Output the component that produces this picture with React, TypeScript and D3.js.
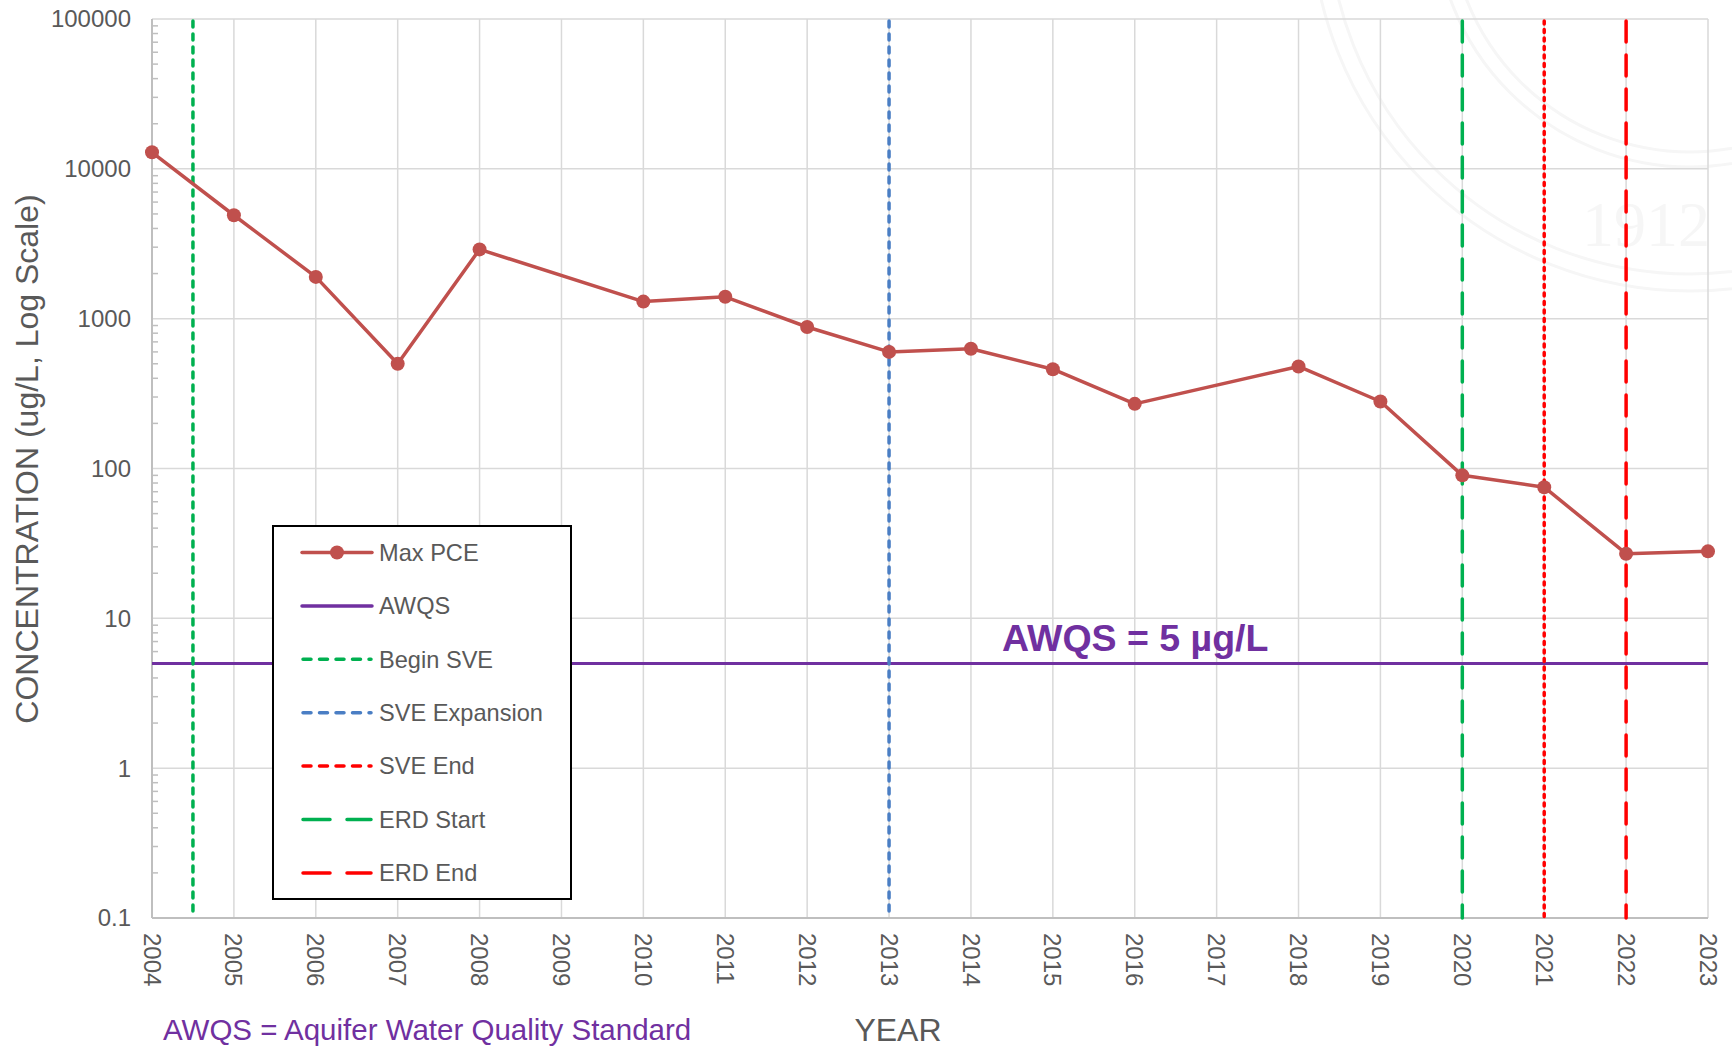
import React from 'react';
import * as d3 from 'd3';

// Max PCE concentrations (ug/L) by sampling year
const years = [2004, 2005, 2006, 2007, 2008, 2010, 2011, 2012, 2013, 2014, 2015, 2016, 2018, 2019, 2020, 2021, 2022, 2023];
const maxPce = [12900, 4900, 1900, 500, 2900, 1300, 1400, 880, 600, 630, 460, 270, 480, 280, 90, 75, 27, 28];

const awqsValue = 5;
const yearTicks = d3.range(2004, 2024);
const decadeTicks = [0.1, 1, 10, 100, 1000, 10000, 100000];

// remediation milestones drawn as vertical lines (dashes account for round caps)
const events = [
  { name: 'Begin SVE', year: 2004.5, color: '#00B050', dash: '6,7', legendDash: '8,8.5' },
  { name: 'SVE Expansion', year: 2013, color: '#4A7EC4', dash: '6,7', legendDash: '8,8.5' },
  { name: 'SVE End', year: 2021, color: '#FF0000', dash: '3,5.5', legendDash: '8,8.5' },
  { name: 'ERD Start', year: 2020, color: '#00B050', dash: '21,13', legendDash: '27,17' },
  { name: 'ERD End', year: 2022, color: '#FF0000', dash: '21,13', legendDash: '27,17' },
];
const legendOrder = ['Max PCE', 'AWQS', 'Begin SVE', 'SVE Expansion', 'SVE End', 'ERD Start', 'ERD End'];

const W = 1732;
const H = 1048;
const FONT = '"Liberation Sans", Arial, sans-serif';
const GRAY = '#595959';
const LINE_RED = '#C0504D';
const PURPLE = '#7030A0';

export default function App() {
  const x = d3.scaleLinear().domain([2004, 2023]).range([152, 1708]);
  const y = d3.scaleLog().domain([0.1, 100000]).range([918, 19]);

  const points = years.map((yr, i) => [yr, maxPce[i]] as [number, number]);
  const line = d3.line<[number, number]>().x(d => x(d[0])).y(d => y(d[1]));

  const minorTicks: number[] = [];
  decadeTicks.slice(0, -1).forEach(d => {
    for (let k = 2; k <= 9; k++) minorTicks.push(d * k);
  });

  const legendX = 273;
  const legendY = 526;
  const legendStep = 53.4;

  const legendSample = (name: string, cy: number) => {
    if (name === 'Max PCE') {
      return (
        <g>
          <line x1={302} x2={372} y1={cy} y2={cy} stroke={LINE_RED} strokeWidth={3.5} strokeLinecap="round" />
          <circle cx={337} cy={cy} r={7} fill={LINE_RED} />
        </g>
      );
    }
    if (name === 'AWQS') {
      return <line x1={302} x2={372} y1={cy} y2={cy} stroke={PURPLE} strokeWidth={3.5} strokeLinecap="round" />;
    }
    const ev = events.find(e => e.name === name)!;
    return (
      <line x1={303} x2={371} y1={cy} y2={cy} stroke={ev.color} strokeWidth={3.5}
        strokeDasharray={ev.legendDash} strokeLinecap="round" />
    );
  };

  return (
    <svg width={W} height={H} style={{ position: 'absolute', left: 0, top: 0, background: '#fff' }}
      fontFamily={FONT}>
      {/* faint seal watermark behind the plot */}
      <g fill="none" stroke="#F6F6F6" strokeWidth={3}>
        <circle cx={1690} cy={-88} r={379} />
        <circle cx={1690} cy={-88} r={362} />
        <circle cx={1690} cy={-88} r={255} />
        <circle cx={1690} cy={-88} r={240} />
      </g>
      <text x={1646} y={246} textAnchor="middle" fontFamily="'Liberation Serif', serif" fontSize={64}
        fill="#F6F6F6">1912</text>

      {/* grid */}
      <g stroke="#D9D9D9" strokeWidth={1.5}>
        {yearTicks.map(t => (
          <line key={`v${t}`} x1={x(t)} x2={x(t)} y1={y(100000)} y2={y(0.1)} />
        ))}
        {decadeTicks.map(t => (
          <line key={`h${t}`} x1={x(2004)} x2={x(2023)} y1={y(t)} y2={y(t)} />
        ))}
      </g>

      {/* axes */}
      <g stroke="#BFBFBF" strokeWidth={2}>
        <line x1={x(2004)} x2={x(2004)} y1={y(100000)} y2={y(0.1)} />
        <line x1={x(2004)} x2={x(2023)} y1={y(0.1)} y2={y(0.1)} />
        {minorTicks.map(t => (
          <line key={`m${t}`} x1={x(2004)} x2={x(2004) + 6} y1={y(t)} y2={y(t)} strokeWidth={1.5} />
        ))}
      </g>

      {/* y tick labels */}
      {decadeTicks.map(t => (
        <text key={`yl${t}`} x={131} y={y(t)} dy="0.35em" textAnchor="end" fontSize={24} fill={GRAY}>
          {String(t)}
        </text>
      ))}

      {/* x tick labels, rotated */}
      {yearTicks.map(t => (
        <text key={`xl${t}`} transform={`translate(${x(t)},933) rotate(90)`} dy="0.35em"
          textAnchor="start" fontSize={24} fill={GRAY}>
          {t}
        </text>
      ))}

      {/* AWQS standard */}
      <line x1={x(2004)} x2={x(2023)} y1={y(awqsValue)} y2={y(awqsValue)} stroke={PURPLE} strokeWidth={3} />
      <text x={1002} y={651} fontSize={37.5} fontWeight="bold" fill={PURPLE}>AWQS = 5 µg/L</text>

      {/* milestone lines */}
      {events.map(ev => (
        <line key={ev.name} x1={x(ev.year)} x2={x(ev.year)} y1={y(100000) + 2} y2={y(0.1)}
          stroke={ev.color} strokeWidth={3.5} strokeDasharray={ev.dash} strokeLinecap="round" />
      ))}

      {/* Max PCE series */}
      <path d={line(points) ?? ''} fill="none" stroke={LINE_RED} strokeWidth={3.5} strokeLinejoin="round" />
      {points.map(p => (
        <circle key={p[0]} cx={x(p[0])} cy={y(p[1])} r={7} fill={LINE_RED} />
      ))}

      {/* legend */}
      <rect x={legendX} y={legendY} width={298} height={373} fill="#fff" stroke="#000" strokeWidth={2} />
      {legendOrder.map((name, i) => {
        const cy = legendY + 26.5 + i * legendStep;
        return (
          <g key={name}>
            {legendSample(name, cy)}
            <text x={379} y={cy} dy="0.35em" fontSize={23.6} fill={GRAY}>{name}</text>
          </g>
        );
      })}

      {/* axis titles */}
      <text transform="translate(38,459) rotate(-90)" textAnchor="middle" fontSize={32} fill={GRAY}>
        CONCENTRATION (ug/L, Log Scale)
      </text>
      <text x={898} y={1041} textAnchor="middle" fontSize={32} fill={GRAY}>YEAR</text>
      <text x={163} y={1040} fontSize={29.5} fill={PURPLE}>AWQS = Aquifer Water Quality Standard</text>
    </svg>
  );
}
